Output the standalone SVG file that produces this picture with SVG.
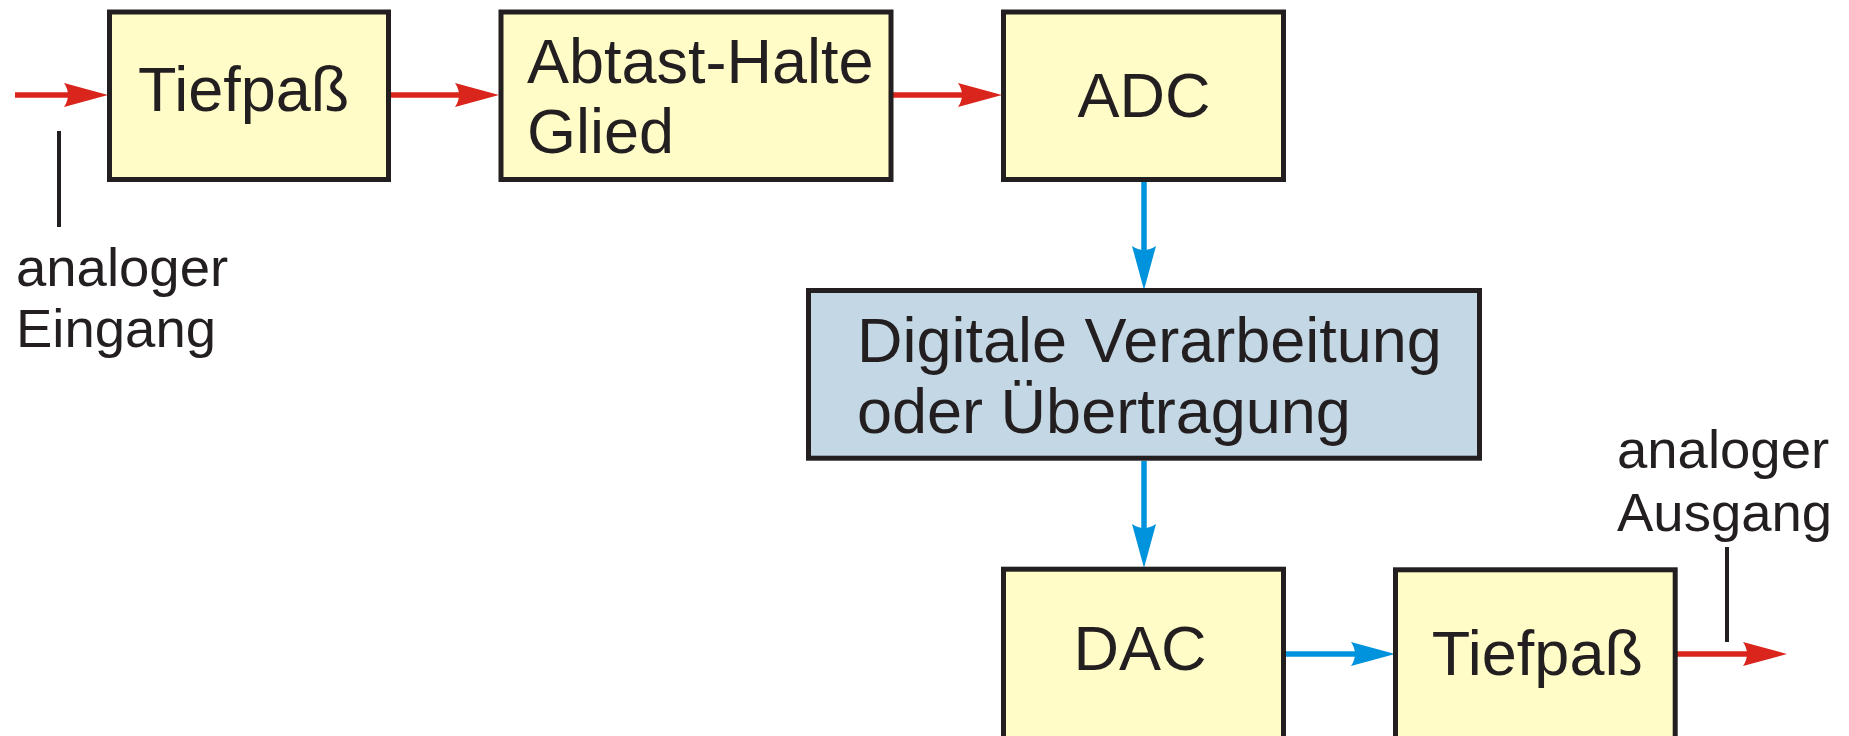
<svg xmlns="http://www.w3.org/2000/svg" width="1849" height="736" viewBox="0 0 1849 736">
  <style>
    .box { stroke: #231f20; stroke-width: 5; }
    .yel { fill: #fffcc8; }
    .blu { fill: #c3d7e4; }
    .t { font-family: "Liberation Sans", Arial, sans-serif; fill: #231f20; font-size: 63px; }
    .lbl { font-family: "Liberation Sans", Arial, sans-serif; fill: #231f20; font-size: 54.5px; }
    .red { stroke: #da251d; stroke-width: 5.5; fill: none; marker-end: url(#ahRed); }
    .bl { stroke: #0093dd; stroke-width: 5.5; fill: none; marker-end: url(#ahBlue); }
    .tick { stroke: #231f20; stroke-width: 4; }
  </style>
  <defs>
    <marker id="ahRed" markerUnits="userSpaceOnUse" markerWidth="44" markerHeight="24" refX="4" refY="12" orient="auto" overflow="visible">
      <path d="M0,0 L44,12 L0,24 Q8,12 0,0 Z" fill="#da251d"/>
    </marker>
    <marker id="ahBlue" markerUnits="userSpaceOnUse" markerWidth="44" markerHeight="24" refX="4" refY="12" orient="auto" overflow="visible">
      <path d="M0,0 L44,12 L0,24 Q8,12 0,0 Z" fill="#0093dd"/>
    </marker>
  </defs>
  <rect width="1849" height="736" fill="#ffffff"/>

  <g id="connectors">
    <line class="red" x1="15" y1="95" x2="68" y2="95"/>
    <line class="red" x1="391" y1="95" x2="459" y2="95"/>
    <line class="red" x1="893" y1="95" x2="962" y2="95"/>
    <line class="bl" x1="1144" y1="182" x2="1144" y2="250"/>
    <line class="bl" x1="1144" y1="461" x2="1144" y2="528"/>
    <line class="bl" x1="1286" y1="654" x2="1355" y2="654"/>
    <line class="red" x1="1677" y1="654" x2="1747" y2="654"/>
  </g>

  <g id="tiefpass1">
    <rect class="box yel" x="109.5" y="12" width="279" height="167.5"/>
    <text class="t" x="138" y="111">Tiefpaß</text>
  </g>

  <g id="abtast-halte">
    <rect class="box yel" x="501" y="12" width="390" height="167.5"/>
    <text class="t" x="527" y="83.3">Abtast-Halte</text>
    <text class="t" x="527" y="153.3">Glied</text>
  </g>

  <g id="adc">
    <rect class="box yel" x="1003.5" y="12" width="280" height="167.5"/>
    <text class="t" x="1144" y="116.7" text-anchor="middle">ADC</text>
  </g>

  <g id="digital">
    <rect class="box blu" x="808.5" y="290.5" width="671" height="167.7"/>
    <text class="t" x="857" y="362.3">Digitale Verarbeitung</text>
    <text class="t" x="857" y="433.3">oder Übertragung</text>
  </g>

  <g id="dac">
    <rect class="box yel" x="1003.5" y="569.2" width="280" height="200"/>
    <text class="t" x="1140" y="670" text-anchor="middle">DAC</text>
  </g>

  <g id="tiefpass2">
    <rect class="box yel" x="1395.5" y="569.8" width="279.7" height="200"/>
    <text class="t" x="1431.7" y="675.3">Tiefpaß</text>
  </g>

  <g id="eingang">
    <line class="tick" x1="59" y1="131" x2="59" y2="227"/>
    <text class="lbl" x="16" y="285.7">analoger</text>
    <text class="lbl" x="16" y="347.3">Eingang</text>
  </g>

  <g id="ausgang">
    <line class="tick" x1="1727" y1="547" x2="1727" y2="642"/>
    <text class="lbl" x="1617" y="468.3">analoger</text>
    <text class="lbl" x="1617" y="530.7">Ausgang</text>
  </g>
</svg>
